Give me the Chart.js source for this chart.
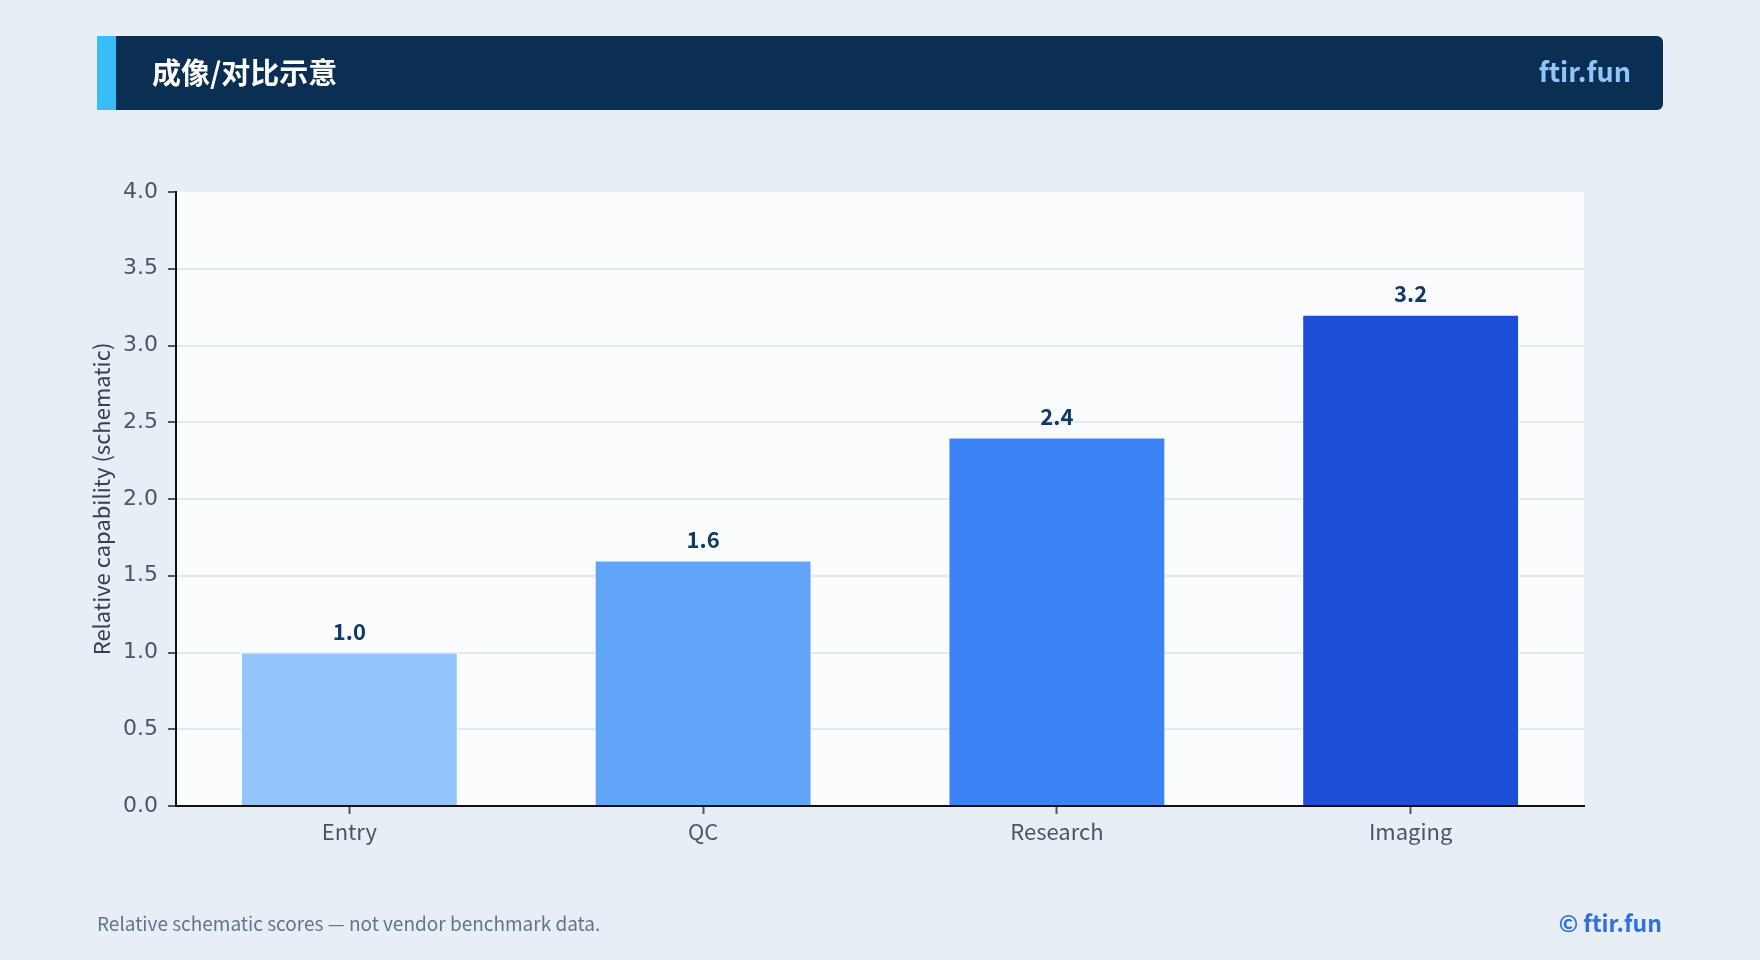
<!DOCTYPE html>
<html>
<head>
<meta charset="utf-8">
<title>成像/对比示意</title>
<script src="https://cdn.jsdelivr.net/npm/chart.js@4.4.1/dist/chart.umd.min.js"></script>
<style>
    html, body {
        margin: 0;
        padding: 0;
        width: 1760px;
        height: 960px;
        background: #e8eef6;
        overflow: hidden;
        font-family: "Noto Sans CJK SC", "Noto Sans", sans-serif;
    }
    .header {
        position: absolute;
        left: 97px;
        top: 36px;
        width: 1566px;
        height: 74px;
        background: #0b2e53;
        border-radius: 0 6px 6px 0;
    }
    .header .accent {
        position: absolute;
        left: 0;
        top: 0;
        width: 19px;
        height: 74px;
        background: #38bdf8;
    }
    .header .title {
        position: absolute;
        left: 55px;
        top: 0;
        line-height: 70px;
        font-size: 29px;
        font-weight: 700;
        color: #ffffff;
    }
    .header .brand {
        position: absolute;
        right: 32px;
        top: 0;
        line-height: 70px;
        font-size: 27px;
        font-weight: 700;
        color: #93c5fd;
    }
    .chart-box {
        position: absolute;
        left: 0;
        top: 0;
        width: 1760px;
        height: 960px;
    }
    .note {
        position: absolute;
        left: 97px;
        top: 909px;
        font-size: 19px;
        color: #64748b;
    }
    .copy {
        position: absolute;
        right: 98px;
        top: 905px;
        font-size: 23px;
        font-weight: 700;
        color: #2f6fe4;
    }
</style>
</head>
<body>
<div class="chart-box"><canvas id="capabilityChart" width="1760" height="960"></canvas></div>
<div class="header">
    <div class="accent"></div>
    <div class="title">成像/对比示意</div>
    <div class="brand">ftir.fun</div>
</div>
<div class="note">Relative schematic scores — not vendor benchmark data.</div>
<div class="copy">© ftir.fun</div>

<script>
// Chart data
const categories = ['Entry', 'QC', 'Research', 'Imaging'];
const scores = [1.0, 1.6, 2.4, 3.2];
const barColors = ['#93c5fd', '#60a5fa', '#3b82f6', '#1d4ed8'];
const yTicks = [0, 0.5, 1.0, 1.5, 2.0, 2.5, 3.0, 3.5, 4.0];

// Bars sit on a numeric x axis (one unit per category) so the side margins can be set
const points = categories.map((name, i) => ({ x: i, y: scores[i] }));

// Fill the plot area with a near-white background
const plotBackground = {
    id: 'plotBackground',
    beforeDraw(chart) {
        const { ctx, chartArea } = chart;
        ctx.save();
        ctx.fillStyle = '#fafcfe';
        ctx.fillRect(chartArea.left, chartArea.top, chartArea.right - chartArea.left, chartArea.bottom - chartArea.top);
        ctx.restore();
    }
};

// Value labels above each bar, drawn last so they sit over the grid
const valueLabels = {
    id: 'valueLabels',
    afterDraw(chart) {
        const { ctx } = chart;
        const meta = chart.getDatasetMeta(0);
        ctx.save();
        ctx.font = 'bold 22px "Noto Sans CJK SC", "Noto Sans", sans-serif';
        ctx.fillStyle = '#0f3a66';
        ctx.textAlign = 'center';
        ctx.textBaseline = 'bottom';
        meta.data.forEach((bar, i) => {
            ctx.fillText(scores[i].toFixed(1), bar.x, bar.y - 10);
        });
        ctx.restore();
    }
};

const tickFont = { family: '"DejaVu Sans", sans-serif', size: 22 };
const labelFont = { family: '"Noto Sans CJK SC", "Noto Sans", sans-serif', size: 22 };

new Chart(document.getElementById('capabilityChart'), {
    type: 'bar',
    data: {
        datasets: [{
            label: 'Relative capability',
            data: points,
            backgroundColor: barColors,
            borderColor: '#ffffff',
            borderWidth: 1,
            categoryPercentage: 1.0,
            barPercentage: 0.613
        }]
    },
    options: {
        responsive: false,
        animation: false,
        devicePixelRatio: 1,
        layout: {
            padding: { left: 80, right: 176, top: 192, bottom: 94 }
        },
        plugins: {
            legend: { display: false },
            tooltip: { enabled: false }
        },
        scales: {
            x: {
                type: 'linear',
                offset: false,
                z: 1,
                min: -0.49,
                max: categories.length - 0.51,
                afterFit(scale) { scale.height = 60; },
                afterBuildTicks(scale) {
                    scale.ticks = categories.map((name, i) => ({ value: i }));
                },
                grid: {
                    offset: false,
                    drawOnChartArea: false,
                    drawTicks: true,
                    tickLength: 8,
                    tickColor: '#4b5563',
                    tickWidth: 2
                },
                border: { color: '#111111', width: 2 },
                ticks: {
                    color: '#4b5563',
                    font: labelFont,
                    padding: 4,
                    autoSkip: false,
                    maxRotation: 0,
                    callback: value => categories[value]
                }
            },
            y: {
                z: 1,
                min: 0,
                max: 4,
                afterFit(scale) { scale.width = 96; },
                afterBuildTicks(scale) {
                    scale.ticks = yTicks.map(v => ({ value: v }));
                },
                grid: {
                    color: ctx => (ctx.tick && ctx.tick.value === 4 ? 'rgba(0,0,0,0)' : '#e2e8f0'),
                    lineWidth: 2,
                    drawTicks: true,
                    tickLength: 8,
                    tickColor: '#4b5563',
                    tickWidth: 2
                },
                border: { color: '#111111', width: 2 },
                ticks: {
                    color: '#4b5563',
                    font: tickFont,
                    padding: 10,
                    callback: value => Number(value).toFixed(1)
                },
                title: {
                    display: true,
                    text: 'Relative capability (schematic)',
                    color: '#334155',
                    font: { family: '"Noto Sans CJK SC", "Noto Sans", sans-serif', size: 22 },
                    padding: { top: 8, bottom: 0 }
                }
            }
        }
    },
    plugins: [plotBackground, valueLabels]
});
</script>
</body>
</html>
